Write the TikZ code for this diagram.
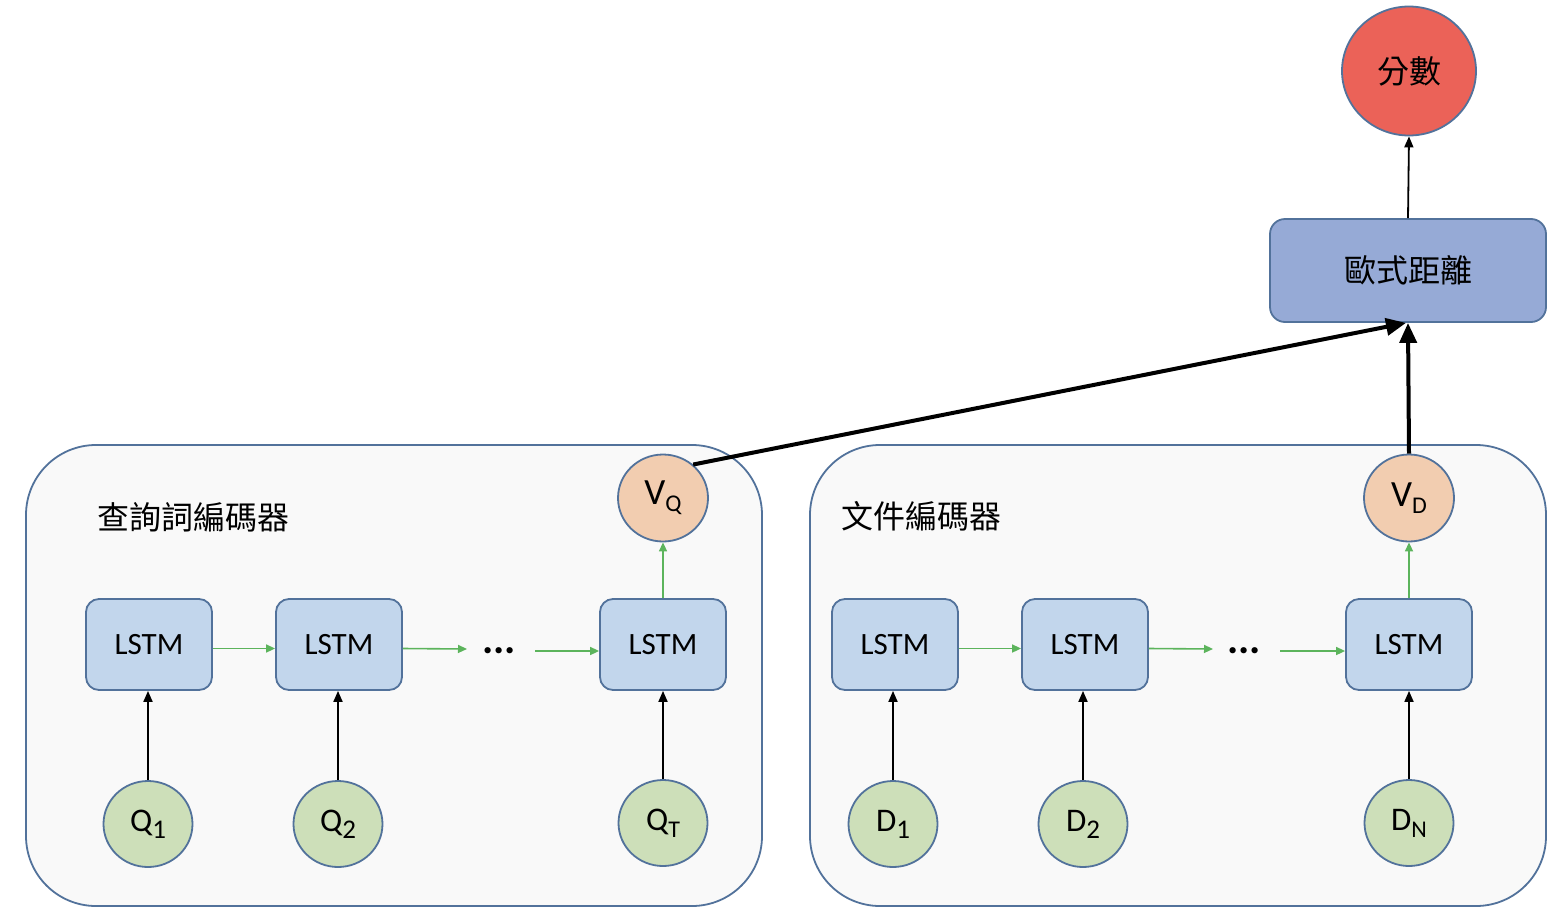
\documentclass[tikz,border=0pt]{standalone}
\usepackage{fontspec}
\setmainfont{Carlito}
\newfontfamily\cjk{Noto Sans CJK TC}
\usetikzlibrary{shapes.geometric,arrows.meta}
\definecolor{framec}{RGB}{82,114,155}
\definecolor{panelfill}{RGB}{249,249,249}
\definecolor{lstmfill}{RGB}{194,214,236}
\definecolor{infill}{RGB}{205,223,185}
\definecolor{vfill}{RGB}{242,205,176}
\definecolor{scorefill}{RGB}{235,98,88}
\definecolor{eucfill}{RGB}{150,170,214}
\definecolor{greenarr}{RGB}{92,180,92}
\newcommand{\mysub}[2][24]{\raisebox{-7pt}{\fontsize{#1}{#1}\selectfont #2}}
\begin{document}
\begin{tikzpicture}[x=1pt,y=-1pt,
  panel/.style={draw=framec,line width=1.8pt,fill=panelfill,rounded corners=70pt,minimum width=736pt,minimum height=461pt,inner sep=0pt},
  lstm/.style={draw=framec,line width=1.8pt,fill=lstmfill,rounded corners=13pt,minimum width=126pt,minimum height=91pt,inner sep=0pt,font=\fontsize{31}{31}\selectfont},
  inp/.style={ellipse,draw=framec,line width=1.8pt,fill=infill,minimum width=89pt,minimum height=86pt,inner sep=0pt,font=\fontsize{33}{33}\selectfont},
  vec/.style={ellipse,draw=framec,line width=1.8pt,fill=vfill,minimum width=90pt,minimum height=87pt,inner sep=0pt,font=\fontsize{37}{37}\selectfont},
  garr/.style={draw=greenarr,line width=1.6pt,-{Triangle[width=8pt,length=9pt]}},
  barr/.style={draw=black,line width=1.8pt,-{Triangle[width=9pt,length=11pt]}},
  thick arr/.style={draw=black,line width=4pt,-{Triangle[width=17pt,length=20pt]}},
  cjklabel/.style={font=\cjk\fontsize{32}{32}\selectfont,inner sep=0pt},
  dotsty/.style={font=\fontsize{42}{42}\selectfont\bfseries,inner sep=0pt}
]
\useasboundingbox (0,0) rectangle (1566,916);
\fill[white] (0,0) rectangle (1566,916);

% panels
\node[panel] (pq) at (394,675.5) {};
\node[panel] (pd) at (1178,675.5) {};
\node[cjklabel,anchor=west] (lq) at (97,517) {查詢詞編碼器};
\node[cjklabel,anchor=west] (ld) at (841,516) {文件編碼器};

% top
\node[ellipse,draw=framec,line width=1.8pt,fill=scorefill,minimum width=134pt,minimum height=129pt,inner sep=0pt,font=\cjk\fontsize{32}{32}\selectfont] (score) at (1409,71) {分數};
\node[draw=framec,line width=1.8pt,fill=eucfill,rounded corners=15pt,minimum width=276pt,minimum height=103pt,inner sep=0pt,font=\cjk\fontsize{32}{32}\selectfont] (euc) at (1408,270.5) {歐式距離};

% LSTM boxes
\node[lstm] (l1) at (149,644.5) {LSTM};
\node[lstm] (l2) at (339,644.5) {LSTM};
\node[lstm] (l3) at (663,644.5) {LSTM};
\node[lstm] (m1) at (895,644.5) {LSTM};
\node[lstm] (m2) at (1085,644.5) {LSTM};
\node[lstm] (m3) at (1409,644.5) {LSTM};

% dots
\node[dotsty] (dq) at (499,651) {...};
\node[dotsty] (dd) at (1244,651) {...};
\coordinate (dqa) at (467,649);
\coordinate (dqb) at (535,651);
\coordinate (dda) at (1213,649);
\coordinate (ddb) at (1280,651);

% inputs
\node[inp] (q1) at (148,824) {Q\mysub[27]{1}};
\node[inp] (q2) at (338,824) {Q\mysub[27]{2}};
\node[inp] (qt) at (663,823) {Q\mysub{T}};
\node[inp] (d1) at (893,824) {D\mysub[27]{1}};
\node[inp] (d2) at (1083,824) {D\mysub[27]{2}};
\node[inp] (dn) at (1409,823) {D\mysub{N}};

% vectors
\node[vec] (vq) at (663,498) {V\mysub[24]{Q}};
\node[vec] (vd) at (1409,498) {V\mysub[24]{D}};

% green arrows
\draw[garr] ([yshift=-4pt]l1.east) -- ([yshift=-4pt]l2.west);
\draw[garr] ([yshift=-4pt]l2.east) -- (dqa);
\draw[garr] (dqb) -- (dqb -| l3.west);
\draw[garr] (l3.north) -- (vq.south);
\draw[garr] ([yshift=-4pt]m1.east) -- ([yshift=-4pt]m2.west);
\draw[garr] ([yshift=-4pt]m2.east) -- (dda);
\draw[garr] (ddb) -- (ddb -| m3.west);
\draw[garr] (m3.north) -- (vd.south);

% black input arrows
\draw[barr] (q1.north) -- (q1.north |- l1.south);
\draw[barr] (q2.north) -- (q2.north |- l2.south);
\draw[barr] (qt.north) -- (qt.north |- l3.south);
\draw[barr] (d1.north) -- (d1.north |- m1.south);
\draw[barr] (d2.north) -- (d2.north |- m2.south);
\draw[barr] (dn.north) -- (dn.north |- m3.south);

% thick arrows
\coordinate (eb) at ([xshift=-2pt]euc.south);
\draw[thick arr] (vq.48) -- (eb);
\draw[thick arr] (vd.north) -- (euc.south);

% top arrow
\draw[barr] (euc.north) -- (score.south);
\end{tikzpicture}
\end{document}
